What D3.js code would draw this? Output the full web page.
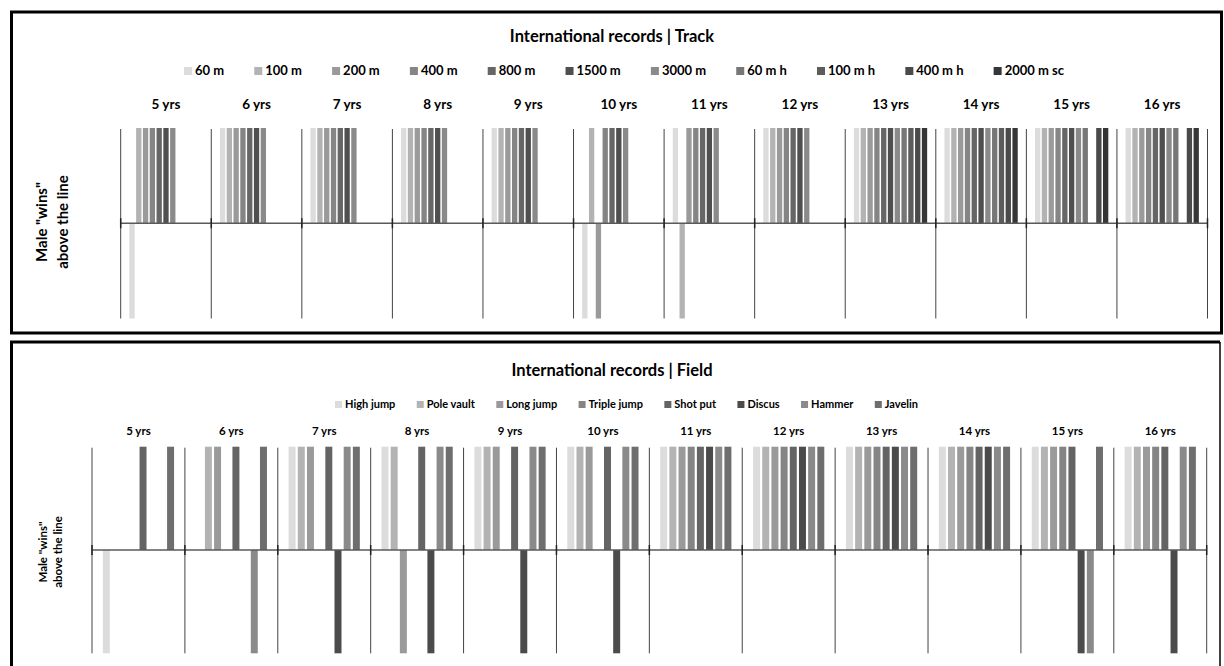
<!DOCTYPE html>
<html>
<head>
<meta charset="utf-8">
<script src="https://cdn.jsdelivr.net/npm/d3@7"></script>
<style>
body { margin: 0; background: #fff; }
svg text { font-family: Lato, "Open Sans", sans-serif; font-weight: bold; fill: #000; }
</style>
</head>
<body>
<div id="chart"></div>
<script>
var ageGroups = ['5 yrs', '6 yrs', '7 yrs', '8 yrs', '9 yrs', '10 yrs', '11 yrs', '12 yrs', '13 yrs', '14 yrs', '15 yrs', '16 yrs'];

// 1 = male record better (above the line), -1 = female better, null = no record
var trackEvents = ['60 m', '100 m', '200 m', '400 m', '800 m', '1500 m', '3000 m', '60 m h', '100 m h', '400 m h', '2000 m sc'];
var trackColors = ['#dcdcdc', '#b3b3b3', '#9a9a9a', '#858585', '#666666', '#4f4f4f', '#8a8a8a', '#777777', '#5c5c5c', '#4a4a4a', '#363636'];
var track60 = [-1, 1, 1, 1, 1, -1, 1, 1, 1, 1, 1, 1];
var track100 = [1, 1, 1, 1, 1, 1, -1, 1, 1, 1, 1, 1];
var track200 = [1, 1, 1, 1, 1, -1, 1, 1, 1, 1, 1, 1];
var track400 = [1, 1, 1, 1, 1, 1, 1, 1, 1, 1, 1, 1];
var track800 = [1, 1, 1, 1, 1, 1, 1, 1, 1, 1, 1, 1];
var track1500 = [1, 1, 1, 1, 1, 1, 1, 1, 1, 1, 1, 1];
var track3000 = [1, 1, 1, 1, 1, 1, 1, 1, 1, 1, 1, 1];
var track60h = [null, null, null, null, null, null, null, null, 1, 1, 1, 1];
var track100h = [null, null, null, null, null, null, null, null, 1, 1, null, null];
var track400h = [null, null, null, null, null, null, null, null, 1, 1, 1, 1];
var track2000sc = [null, null, null, null, null, null, null, null, 1, 1, 1, 1];
var trackValues = [track60, track100, track200, track400, track800, track1500, track3000, track60h, track100h, track400h, track2000sc];

var fieldEvents = ['High jump', 'Pole vault', 'Long jump', 'Triple jump', 'Shot put', 'Discus', 'Hammer', 'Javelin'];
var fieldColors = ['#dcdcdc', '#b3b3b3', '#9a9a9a', '#858585', '#646464', '#4b4b4b', '#8a8a8a', '#6e6e6e'];
var highJump = [-1, null, 1, 1, 1, 1, 1, 1, 1, 1, 1, 1];
var poleVault = [null, 1, 1, 1, 1, 1, 1, 1, 1, 1, 1, 1];
var longJump = [null, 1, 1, -1, 1, 1, 1, 1, 1, 1, 1, 1];
var tripleJump = [null, null, null, null, null, null, 1, 1, 1, 1, 1, 1];
var shotPut = [1, 1, 1, 1, 1, 1, 1, 1, 1, 1, 1, 1];
var discus = [null, null, -1, -1, -1, -1, 1, 1, 1, 1, -1, -1];
var hammer = [null, -1, 1, 1, 1, 1, 1, 1, 1, 1, -1, 1];
var javelin = [1, 1, 1, 1, 1, 1, 1, 1, 1, 1, 1, 1];
var fieldValues = [highJump, poleVault, longJump, tripleJump, shotPut, discus, hammer, javelin];

var svg = d3.select('#chart')
    .append('svg')
    .attr('width', 1224)
    .attr('height', 666);

function drawPanel(cfg) {
    var g = svg.append('g');

    // chart area border
    g.append('path')
        .attr('d', cfg.border)
        .attr('fill', 'none')
        .attr('stroke', '#000')
        .attr('stroke-width', 3);
    if (cfg.rightBorder) {
        g.append('line')
            .attr('x1', cfg.rightBorder.x).attr('x2', cfg.rightBorder.x)
            .attr('y1', cfg.rightBorder.y1).attr('y2', cfg.rightBorder.y2)
            .attr('stroke', '#000')
            .attr('stroke-width', cfg.rightBorder.w);
    }

    g.append('text')
        .attr('x', cfg.titleX)
        .attr('y', cfg.titleY)
        .attr('text-anchor', 'middle')
        .style('font-size', '16.5px')
        .text(cfg.title);

    // legend, spread between start and end like Excel does
    var legend = g.append('g');
    var items = legend.selectAll('g')
        .data(cfg.events)
        .enter()
        .append('g');
    items.append('rect')
        .attr('width', cfg.legendBox)
        .attr('height', cfg.legendBox)
        .attr('y', cfg.legendY - cfg.legendBox + 1)
        .attr('fill', (d, i) => cfg.colors[i]);
    items.append('text')
        .attr('x', cfg.legendBox + 3)
        .attr('y', cfg.legendY + 1)
        .style('font-size', cfg.legendFont + 'px')
        .text(d => d);
    var widths = [];
    items.each(function () {
        widths.push(cfg.legendBox + 3 + this.querySelector('text').getComputedTextLength());
    });
    var gap = (cfg.legendEnd - cfg.legendStart - d3.sum(widths)) / (widths.length - 1);
    var pos = cfg.legendStart;
    items.attr('transform', function (d, i) {
        var t = 'translate(' + pos + ',0)';
        pos += widths[i] + gap;
        return t;
    });

    var xScale0 = d3.scaleBand()
        .domain(ageGroups)
        .range([cfg.left, cfg.right]);
    var xScale1 = d3.scaleBand()
        .domain(cfg.events)
        .range([0, xScale0.bandwidth()])
        .paddingInner(cfg.padInner)
        .paddingOuter(cfg.padOuter);
    var yScale = d3.scaleLinear()
        .domain([-1, 1])
        .range([cfg.bottom, cfg.top]);

    g.selectAll('.grp-label')
        .data(ageGroups)
        .enter()
        .append('text')
        .attr('class', 'grp-label')
        .attr('x', d => xScale0(d) + xScale0.bandwidth() / 2)
        .attr('y', cfg.labelY)
        .attr('text-anchor', 'middle')
        .style('font-size', cfg.labelFont + 'px')
        .text(d => d);

    var bars = [];
    ageGroups.forEach(function (age, gi) {
        cfg.events.forEach(function (ev, si) {
            var v = cfg.values[si][gi];
            if (v != null) bars.push({ age: age, ev: ev, si: si, v: v });
        });
    });

    g.selectAll('.bar')
        .data(bars)
        .enter()
        .append('rect')
        .attr('class', 'bar')
        .attr('x', d => xScale0(d.age) + xScale1(d.ev))
        .attr('y', d => yScale(Math.max(d.v, 0)))
        .attr('width', xScale1.bandwidth())
        .attr('height', d => Math.abs(yScale(d.v) - yScale(0)))
        .attr('fill', d => cfg.colors[d.si]);

    // separators between age groups
    var bounds = ageGroups.map(d => xScale0(d)).concat([cfg.right]);
    g.selectAll('.sep')
        .data(bounds)
        .enter()
        .append('line')
        .attr('class', 'sep')
        .attr('x1', d => d).attr('x2', d => d)
        .attr('y1', cfg.top + 1)
        .attr('y2', cfg.bottom)
        .attr('stroke', '#444')
        .attr('stroke-width', 1);

    g.append('line')
        .attr('x1', cfg.left).attr('x2', cfg.right)
        .attr('y1', yScale(0)).attr('y2', yScale(0))
        .attr('stroke', '#5a5a5a')
        .attr('stroke-width', 1.5);

    g.selectAll('.tick-mark')
        .data(bounds)
        .enter()
        .append('line')
        .attr('class', 'tick-mark')
        .attr('x1', d => d).attr('x2', d => d)
        .attr('y1', yScale(0) - 5)
        .attr('y2', yScale(0) + 5)
        .attr('stroke', '#222')
        .attr('stroke-width', 1.5);

    var yl = g.append('text')
        .attr('transform', 'translate(' + cfg.yLabelX + ',' + cfg.yLabelY + ') rotate(-90)')
        .attr('text-anchor', 'middle')
        .style('font-size', cfg.yLabelFont + 'px');
    yl.append('tspan').attr('x', 0).attr('dy', 0).text('Male  "wins"');
    yl.append('tspan').attr('x', 0).attr('dy', cfg.yLabelGap).text('above the line');
}

drawPanel({
    border: 'M11.5,333 L11.5,12 L1221.5,12 L1221.5,333 Z',
    title: 'International records | Track',
    titleX: 612, titleY: 42,
    events: trackEvents, colors: trackColors, values: trackValues,
    legendY: 74, legendStart: 184, legendEnd: 1064, legendFont: 13, legendBox: 8,
    labelY: 109, labelFont: 13.5,
    left: 120.7, right: 1207.5, top: 128, bottom: 318.5,
    padInner: 0.22, padOuter: 1.27,
    yLabelX: 47, yLabelY: 222, yLabelFont: 15, yLabelGap: 21
});

drawPanel({
    border: 'M11.5,690 L11.5,342 L1220,342',
    rightBorder: { x: 1220, y1: 342, y2: 690, w: 1.5 },
    title: 'International records | Field',
    titleX: 612, titleY: 376,
    events: fieldEvents, colors: fieldColors, values: fieldValues,
    legendY: 407, legendStart: 335, legendEnd: 918, legendFont: 11, legendBox: 7,
    labelY: 435, labelFont: 11.5,
    left: 92, right: 1206.7, top: 446.7, bottom: 653.3,
    padInner: 0.24, padOuter: 1.18,
    yLabelX: 47, yLabelY: 552, yLabelFont: 11.5, yLabelGap: 15
});
</script>
</body>
</html>
